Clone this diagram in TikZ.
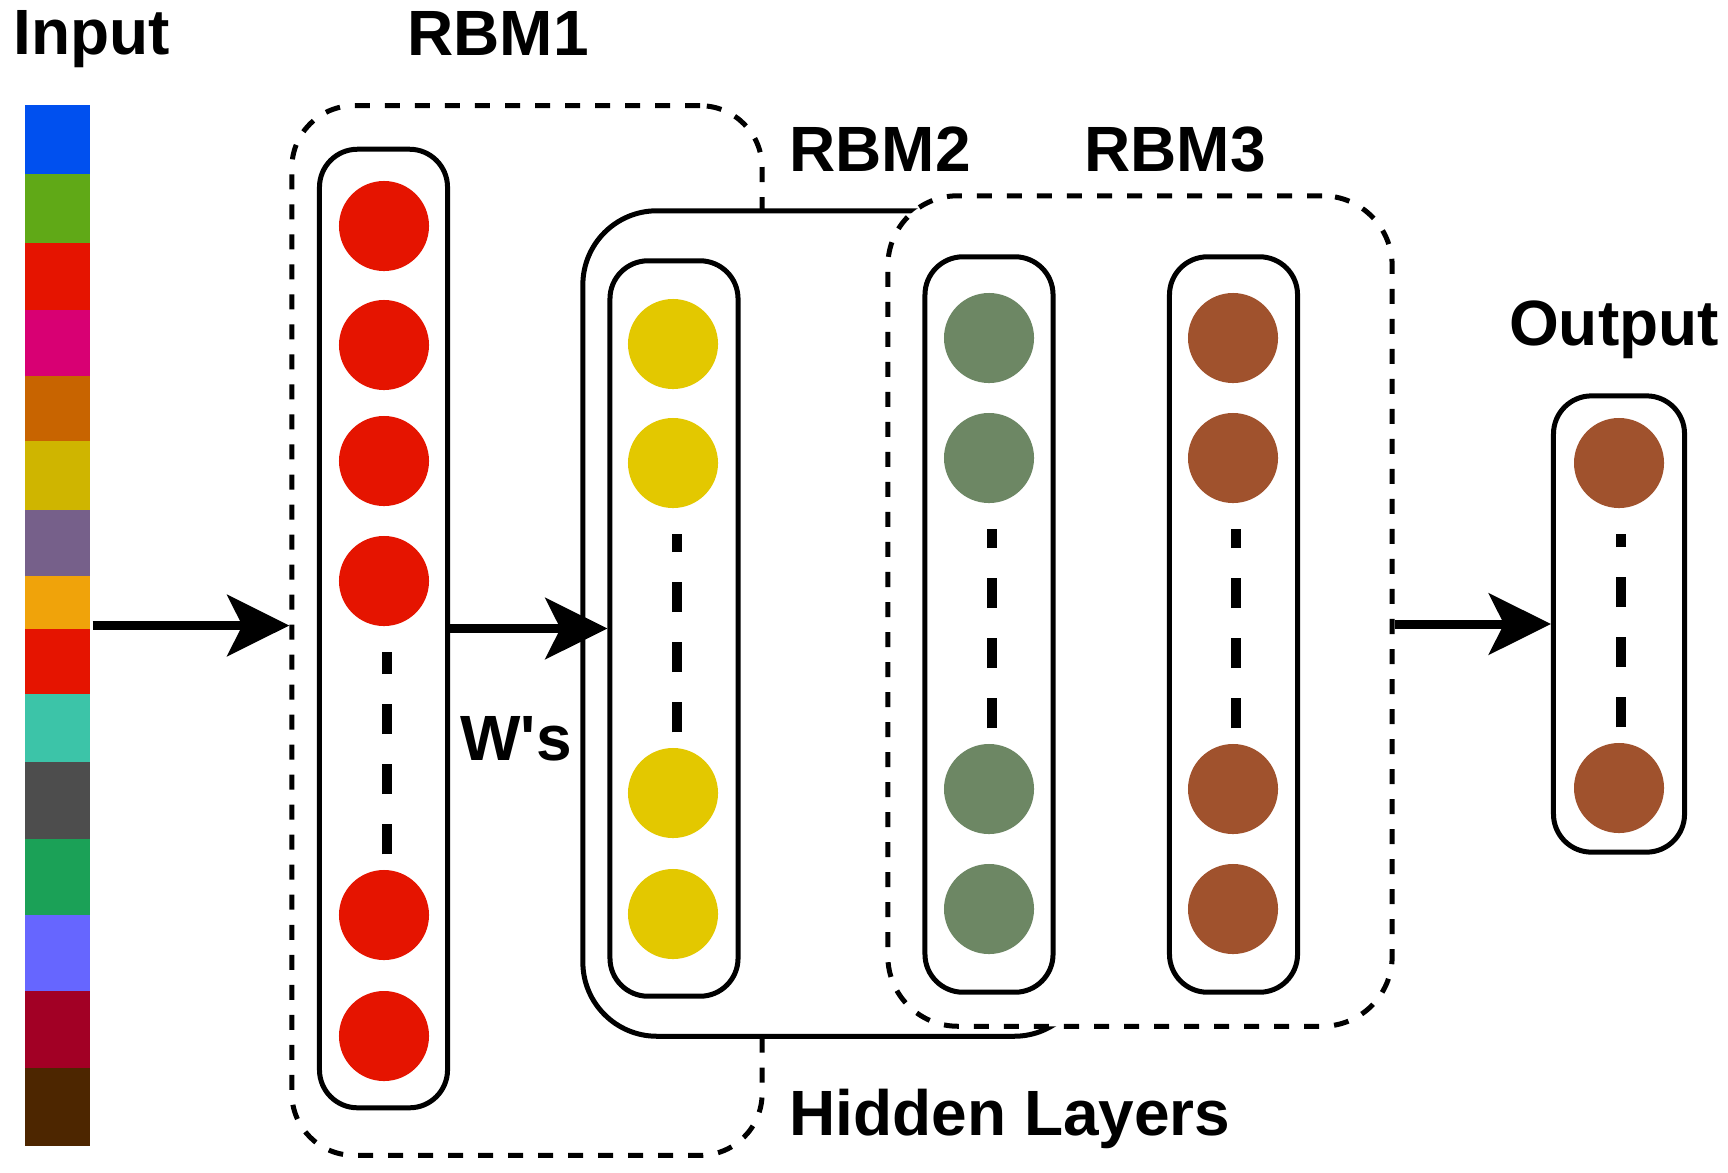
\documentclass[tikz,border=0pt]{standalone}
\usepackage{xcolor}
\usepackage{fontspec}
\setmainfont{Liberation Sans}[Ligatures = TeXOff]
\usepackage{tikz}
\usetikzlibrary{arrows.meta}
\usetikzlibrary{positioning, backgrounds}
\definecolor{in blue}{HTML}{0050EF}
\definecolor{in green}{HTML}{60A917}
\definecolor{in red}{HTML}{E51400}
\definecolor{in pink}{HTML}{D80073}
\definecolor{in orange}{HTML}{C86400}
\definecolor{in yellow}{HTML}{CFB500}
\definecolor{in mauve}{HTML}{76608A}
\definecolor{in amber}{HTML}{F0A30A}
\definecolor{in teal}{HTML}{3CC4A8}
\definecolor{in gray}{HTML}{4D4D4D}
\definecolor{in emerald}{HTML}{1BA157}
\definecolor{in violet}{HTML}{6666FF}
\definecolor{in crimson}{HTML}{A20025}
\definecolor{in brown}{HTML}{4D2600}
\definecolor{unit red}{HTML}{E51400}
\definecolor{unit yellow}{HTML}{E3C800}
\definecolor{unit green}{HTML}{6D8764}
\definecolor{unit brown}{HTML}{A0522D}
\tikzset{
unit/.style = { circle, draw = none, minimum size = 9mm, inner sep = 0pt },
layer/.style = { rectangle, draw = black, fill = white, line width = 0.05cm, minimum width = 12.8mm, rounded corners = 3.8mm, inner sep = 0pt },
rbm box/.style = { rectangle, draw = black, fill = white, line width = 0.05cm, dash pattern = on 0.15cm off 0.15cm, inner sep = 0pt },
hidden box/.style = { rectangle, draw = black, fill = white, line width = 0.05cm, rounded corners = 7.4mm, minimum width = 50.5mm, minimum height = 82.5mm, inner sep = 0pt },
unit gap/.style = { line width = 0.1cm, dash pattern = on 0.3cm off 0.3cm, shorten <= 0.15cm, shorten >= 0.25cm },
flow/.style = { line width = 0.09cm, -{Stealth[length = 6.2mm, width = 6.1mm, inset = 1.5mm]} },
title/.style = { font = \fontsize{18.2}{21}\selectfont\bfseries, inner sep = 0pt },
}
\begin{document}
\begin{tikzpicture}[x = 0.01cm, y = -0.01cm]
    \useasboundingbox (0, 0) rectangle (1728, 1172);
    % input vector
    \node[inner sep = 0pt, minimum width = 6.5mm, minimum height = 104.1mm] (bar) at (57.5, 625.5) {};
    \fill[in blue] (25, 105) rectangle (90, 174);
    \fill[in green] (25, 174) rectangle (90, 243);
    \fill[in red] (25, 243) rectangle (90, 310);
    \fill[in pink] (25, 310) rectangle (90, 376);
    \fill[in orange] (25, 376) rectangle (90, 441);
    \fill[in yellow] (25, 441) rectangle (90, 510);
    \fill[in mauve] (25, 510) rectangle (90, 576);
    \fill[in amber] (25, 576) rectangle (90, 629);
    \fill[in red] (25, 629) rectangle (90, 694);
    \fill[in teal] (25, 694) rectangle (90, 762);
    \fill[in gray] (25, 762) rectangle (90, 839);
    \fill[in emerald] (25, 839) rectangle (90, 915);
    \fill[in violet] (25, 915) rectangle (90, 991);
    \fill[in crimson] (25, 991) rectangle (90, 1068);
    \fill[in brown] (25, 1068) rectangle (90, 1146);
    % rbm groups
    \node[rbm box, rounded corners = 6.2mm, minimum width = 47mm, minimum height = 104.9mm] (rbm1) at (527, 630.5) {};
    \node[hidden box] (rbm2) at (835.5, 623.5) {};
    \node[rbm box, rounded corners = 7mm, minimum width = 50.4mm, minimum height = 83mm] (rbm3) at (1140, 611) {};
    % layers
    \node[layer, minimum height = 95.8mm] (c1) at (383.5, 628.5) {};
    \node[layer, minimum height = 73.5mm] (c2) at (674, 628.5) {};
    \node[layer, minimum height = 73.5mm] (c3) at (989, 624.5) {};
    \node[layer, minimum height = 73.5mm] (c4) at (1233.5, 624.5) {};
    \node[layer, minimum width = 13.1mm, minimum height = 45.6mm] (out) at (1619, 624) {};
    % units
    \node[unit, fill = unit red] (r1) at (384, 226) {};
    \node[unit, fill = unit red] (r2) at (384, 345) {};
    \node[unit, fill = unit red] (r3) at (384, 461) {};
    \node[unit, fill = unit red] (r4) at (384, 581) {};
    \node[unit, fill = unit red] (r5) at (384, 915) {};
    \node[unit, fill = unit red] (r6) at (384, 1036) {};
    \node[unit, fill = unit yellow] (y1) at (673, 344) {};
    \node[unit, fill = unit yellow] (y2) at (673, 463) {};
    \node[unit, fill = unit yellow] (y3) at (673, 793) {};
    \node[unit, fill = unit yellow] (y4) at (673, 914) {};
    \node[unit, fill = unit green] (g1) at (989, 338) {};
    \node[unit, fill = unit green] (g2) at (989, 458) {};
    \node[unit, fill = unit green] (g3) at (989, 789) {};
    \node[unit, fill = unit green] (g4) at (989, 909) {};
    \node[unit, fill = unit brown] (b1) at (1233, 338) {};
    \node[unit, fill = unit brown] (b2) at (1233, 458) {};
    \node[unit, fill = unit brown] (b3) at (1233, 789) {};
    \node[unit, fill = unit brown] (b4) at (1233, 909) {};
    \node[unit, fill = unit brown] (o1) at (1619, 463) {};
    \node[unit, fill = unit brown] (o2) at (1619, 788) {};
    \draw[unit gap] ([xshift = 0.03cm]r5.north) -- ([xshift = 0.03cm]r4.south);
    \draw[unit gap] ([xshift = 0.04cm]y3.north) -- ([xshift = 0.04cm]y2.south);
    \draw[unit gap] ([xshift = 0.03cm]g3.north) -- ([xshift = 0.03cm]g2.south);
    \draw[unit gap] ([xshift = 0.03cm]b3.north) -- ([xshift = 0.03cm]b2.south);
    \draw[unit gap] ([xshift = 0.02cm]o2.north) -- ([xshift = 0.02cm]o1.south);
    % arrows
    \draw[flow] ([xshift = 0.02cm]bar.east) -- (rbm1.west |- bar.east);
    \draw[flow] (c1.east) -- (c2.west);
    \draw[flow] (rbm3.east |- out.west) -- (out.west);
    % labels
    \node[title, anchor = base west] (input) at (13, 54) {Input};
    \node[title, anchor = base] (rbm1 title) at (498, 55) {RBM1};
    \node[title, anchor = base] (rbm2 title) at (880, 171) {RBM2};
    \node[title, anchor = base] (rbm3 title) at (1175, 171) {RBM3};
    \node[title, anchor = base] (output) at (1614, 345) {Output};
    \node[title, anchor = base] (weights) at (516, 760) {W's};
    \node[title, anchor = base] (hidden) at (1010, 1135) {Hidden Layers};
\end{tikzpicture}
\end{document}
